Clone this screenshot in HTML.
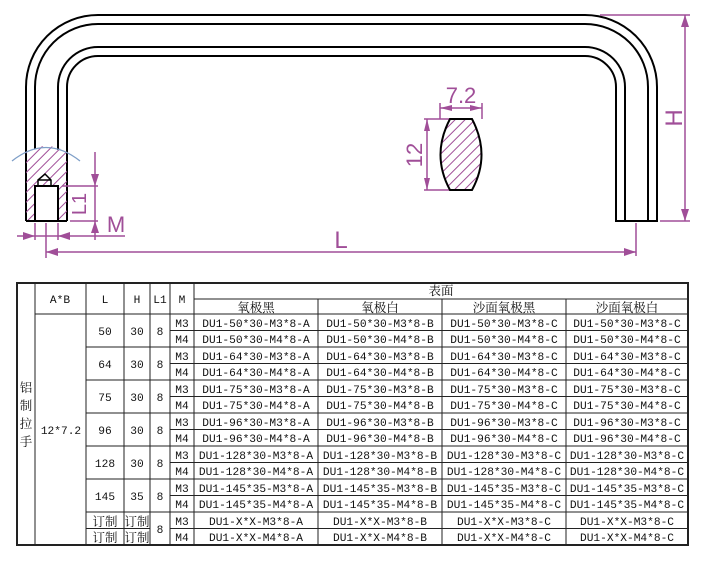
<!DOCTYPE html>
<html><head><meta charset="utf-8"><style>
html,body{margin:0;padding:0;background:#fff;width:701px;height:573px;overflow:hidden}
svg{display:block}
.t{font-family:"Liberation Mono","Noto Serif CJK SC",monospace;font-size:11.2px;fill:#111;text-anchor:middle}
.c{font-family:"Noto Serif CJK SC","Noto Sans CJK SC",serif;font-size:12.5px;fill:#111;text-anchor:middle}
.d{font-family:"Liberation Sans",sans-serif;fill:#a04e98;text-anchor:middle}
</style></head><body>
<svg width="701" height="573" viewBox="0 0 701 573" xmlns="http://www.w3.org/2000/svg">
<defs>
<pattern id="h" patternUnits="userSpaceOnUse" width="7" height="7" patternTransform="rotate(45)">
<line x1="0" y1="0" x2="0" y2="7" stroke="#a04e98" stroke-width="2"/>
</pattern>
</defs>
<!-- handle -->
<g fill="none" stroke="#000" stroke-width="2">
<path d="M26,221 V87 A72,72 0 0 1 98,15 H585 A72,72 0 0 1 657,87 V221 H615"/>
<path d="M35,149 V87 A63,63 0 0 1 98,24 H585 A63,63 0 0 1 648,87 V221"/>
<path d="M58,150 V87 A40,40 0 0 1 98,47 H585 A40,40 0 0 1 625,87 V221"/>
<path d="M67,221 V87 A31,31 0 0 1 98,56 H585 A31,31 0 0 1 616,87 V221"/>
</g>
<!-- hatched end -->
<path d="M26,152 Q46,140 67,152 V221 H58 V186 H35 V221 H26 Z" fill="url(#h)"/>
<path d="M12,161 Q46,134 80,161" fill="none" stroke="#7f9fc8" stroke-width="1.3"/>
<g fill="none" stroke="#000" stroke-width="2">
<path d="M26,221 H67"/>
<path d="M35,221 V186 H58 V221"/>
<path d="M38,186 V180 L45,174 L51,180 V186 M38,180 H51" stroke-width="1.5"/>
</g>
<!-- dims -->
<g stroke="#a04e98" stroke-width="1.5" fill="none">
<path d="M62,186 H98 M70,221 H98 M95,152 V240"/>
<path d="M17,236 H125"/>
<path d="M35,223 V240 M58,223 V240 M46,223 V258"/>
<path d="M46,252 H636 M636,223 V256"/>
<path d="M600,15 H690 M660,221 H690 M685,15 V221"/>
<path d="M440,119 V103 M482,119 V103 M440,108 H482"/>
<path d="M424,119 H450 M424,190 H450 M427,119 V190"/>
</g>
<g fill="#a04e98">
<path d="M95,186 L91,174 L99,174 Z"/>
<path d="M95,221 L91,233 L99,233 Z"/>
<path d="M35,236 L23,232 L23,240 Z"/>
<path d="M58,236 L70,232 L70,240 Z"/>
<path d="M46,252 L58,248 L58,256 Z"/>
<path d="M636,252 L624,248 L624,256 Z"/>
<path d="M685,15 L681,27 L689,27 Z"/>
<path d="M685,221 L681,209 L689,209 Z"/>
<path d="M440,108 L452,105 L452,111 Z"/>
<path d="M482,108 L470,105 L470,111 Z"/>
<path d="M427,119 L424,131 L430,131 Z"/>
<path d="M427,190 L424,178 L430,178 Z"/>
</g>
<text class="d" font-size="20" x="0" y="0" transform="translate(86,204) rotate(-90)">L1</text>
<text class="d" font-size="22" x="116" y="232">M</text>
<text class="d" font-size="24" x="341" y="248">L</text>
<text class="d" font-size="24" x="0" y="0" transform="translate(682,118) rotate(-90)">H</text>
<text class="d" font-size="22" x="461" y="103">7.2</text>
<text class="d" font-size="22" x="0" y="0" transform="translate(422,155) rotate(-90)">12</text>
<!-- section -->
<path d="M450,119 H472 Q491,155 472,190 H450 Q431,155 450,119 Z" fill="url(#h)" stroke="#000" stroke-width="2"/>

<!-- table -->
<g stroke="#222" stroke-width="1" fill="none">
<rect x="17" y="283" width="671" height="262" stroke-width="2"/>
<path d="M35,283 V545 M86,283 V545 M124,283 V545 M150,283 V545 M170,283 V545 M194,283 V545"/>
<path d="M194,299 H688 M318,299 V545 M442,299 V545 M566,299 V545"/>
<path d="M35,314 H688"/>
<path d="M170,330.5 H688 M170,363.5 H688 M170,396.5 H688 M170,429.5 H688 M170,462.5 H688 M170,495.5 H688 M170,528.5 H688"/>
<path d="M86,347 H688 M86,380 H688 M86,413 H688 M86,446 H688 M86,479 H688 M86,512 H688"/>
<path d="M86,528.5 H150"/>
</g>
<text class="t" x="60" y="303">A*B</text>
<text class="t" x="105" y="303">L</text>
<text class="t" x="137" y="303">H</text>
<text class="t" x="160" y="303">L1</text>
<text class="t" x="182" y="303">M</text>
<text class="c" x="441" y="295">表面</text>
<text class="c" x="256" y="312">氧极黑</text>
<text class="c" x="380" y="312">氧极白</text>
<text class="c" x="504" y="312">沙面氧极黑</text>
<text class="c" x="627" y="312">沙面氧极白</text>
<text class="c" x="26" y="392">铝</text>
<text class="c" x="26" y="410">制</text>
<text class="c" x="26" y="428">拉</text>
<text class="c" x="26" y="446">手</text>
<text class="t" x="61" y="434">12*7.2</text>

<g class="t">
<text class="t" x="105" y="335">50</text><text class="t" x="137" y="335">30</text><text class="t" x="160" y="335">8</text>
<text class="t" x="105" y="368">64</text><text class="t" x="137" y="368">30</text><text class="t" x="160" y="368">8</text>
<text class="t" x="105" y="401">75</text><text class="t" x="137" y="401">30</text><text class="t" x="160" y="401">8</text>
<text class="t" x="105" y="434">96</text><text class="t" x="137" y="434">30</text><text class="t" x="160" y="434">8</text>
<text class="t" x="105" y="467">128</text><text class="t" x="137" y="467">30</text><text class="t" x="160" y="467">8</text>
<text class="t" x="105" y="500">145</text><text class="t" x="137" y="500">35</text><text class="t" x="160" y="500">8</text>
<text class="c" x="105" y="526">订制</text><text class="c" x="137" y="526">订制</text>
<text class="c" x="105" y="542">订制</text><text class="c" x="137" y="542">订制</text>
<text class="t" x="160" y="533">8</text>
</g>
<g>
<text class="t" x="182" y="327">M3</text><text class="t" x="256" y="327">DU1-50*30-M3*8-A</text><text class="t" x="380" y="327">DU1-50*30-M3*8-B</text><text class="t" x="504" y="327">DU1-50*30-M3*8-C</text><text class="t" x="627" y="327">DU1-50*30-M3*8-C</text>
<text class="t" x="182" y="343">M4</text><text class="t" x="256" y="343">DU1-50*30-M4*8-A</text><text class="t" x="380" y="343">DU1-50*30-M4*8-B</text><text class="t" x="504" y="343">DU1-50*30-M4*8-C</text><text class="t" x="627" y="343">DU1-50*30-M4*8-C</text>
<text class="t" x="182" y="360">M3</text><text class="t" x="256" y="360">DU1-64*30-M3*8-A</text><text class="t" x="380" y="360">DU1-64*30-M3*8-B</text><text class="t" x="504" y="360">DU1-64*30-M3*8-C</text><text class="t" x="627" y="360">DU1-64*30-M3*8-C</text>
<text class="t" x="182" y="376">M4</text><text class="t" x="256" y="376">DU1-64*30-M4*8-A</text><text class="t" x="380" y="376">DU1-64*30-M4*8-B</text><text class="t" x="504" y="376">DU1-64*30-M4*8-C</text><text class="t" x="627" y="376">DU1-64*30-M4*8-C</text>
<text class="t" x="182" y="393">M3</text><text class="t" x="256" y="393">DU1-75*30-M3*8-A</text><text class="t" x="380" y="393">DU1-75*30-M3*8-B</text><text class="t" x="504" y="393">DU1-75*30-M3*8-C</text><text class="t" x="627" y="393">DU1-75*30-M3*8-C</text>
<text class="t" x="182" y="409">M4</text><text class="t" x="256" y="409">DU1-75*30-M4*8-A</text><text class="t" x="380" y="409">DU1-75*30-M4*8-B</text><text class="t" x="504" y="409">DU1-75*30-M4*8-C</text><text class="t" x="627" y="409">DU1-75*30-M4*8-C</text>
<text class="t" x="182" y="426">M3</text><text class="t" x="256" y="426">DU1-96*30-M3*8-A</text><text class="t" x="380" y="426">DU1-96*30-M3*8-B</text><text class="t" x="504" y="426">DU1-96*30-M3*8-C</text><text class="t" x="627" y="426">DU1-96*30-M3*8-C</text>
<text class="t" x="182" y="442">M4</text><text class="t" x="256" y="442">DU1-96*30-M4*8-A</text><text class="t" x="380" y="442">DU1-96*30-M4*8-B</text><text class="t" x="504" y="442">DU1-96*30-M4*8-C</text><text class="t" x="627" y="442">DU1-96*30-M4*8-C</text>
<text class="t" x="182" y="459">M3</text><text class="t" x="256" y="459">DU1-128*30-M3*8-A</text><text class="t" x="380" y="459">DU1-128*30-M3*8-B</text><text class="t" x="504" y="459">DU1-128*30-M3*8-C</text><text class="t" x="627" y="459">DU1-128*30-M3*8-C</text>
<text class="t" x="182" y="475">M4</text><text class="t" x="256" y="475">DU1-128*30-M4*8-A</text><text class="t" x="380" y="475">DU1-128*30-M4*8-B</text><text class="t" x="504" y="475">DU1-128*30-M4*8-C</text><text class="t" x="627" y="475">DU1-128*30-M4*8-C</text>
<text class="t" x="182" y="492">M3</text><text class="t" x="256" y="492">DU1-145*35-M3*8-A</text><text class="t" x="380" y="492">DU1-145*35-M3*8-B</text><text class="t" x="504" y="492">DU1-145*35-M3*8-C</text><text class="t" x="627" y="492">DU1-145*35-M3*8-C</text>
<text class="t" x="182" y="508">M4</text><text class="t" x="256" y="508">DU1-145*35-M4*8-A</text><text class="t" x="380" y="508">DU1-145*35-M4*8-B</text><text class="t" x="504" y="508">DU1-145*35-M4*8-C</text><text class="t" x="627" y="508">DU1-145*35-M4*8-C</text>
<text class="t" x="182" y="525">M3</text><text class="t" x="256" y="525">DU1-X*X-M3*8-A</text><text class="t" x="380" y="525">DU1-X*X-M3*8-B</text><text class="t" x="504" y="525">DU1-X*X-M3*8-C</text><text class="t" x="627" y="525">DU1-X*X-M3*8-C</text>
<text class="t" x="182" y="541">M4</text><text class="t" x="256" y="541">DU1-X*X-M4*8-A</text><text class="t" x="380" y="541">DU1-X*X-M4*8-B</text><text class="t" x="504" y="541">DU1-X*X-M4*8-C</text><text class="t" x="627" y="541">DU1-X*X-M4*8-C</text>
</g>
</svg>
</body></html>
